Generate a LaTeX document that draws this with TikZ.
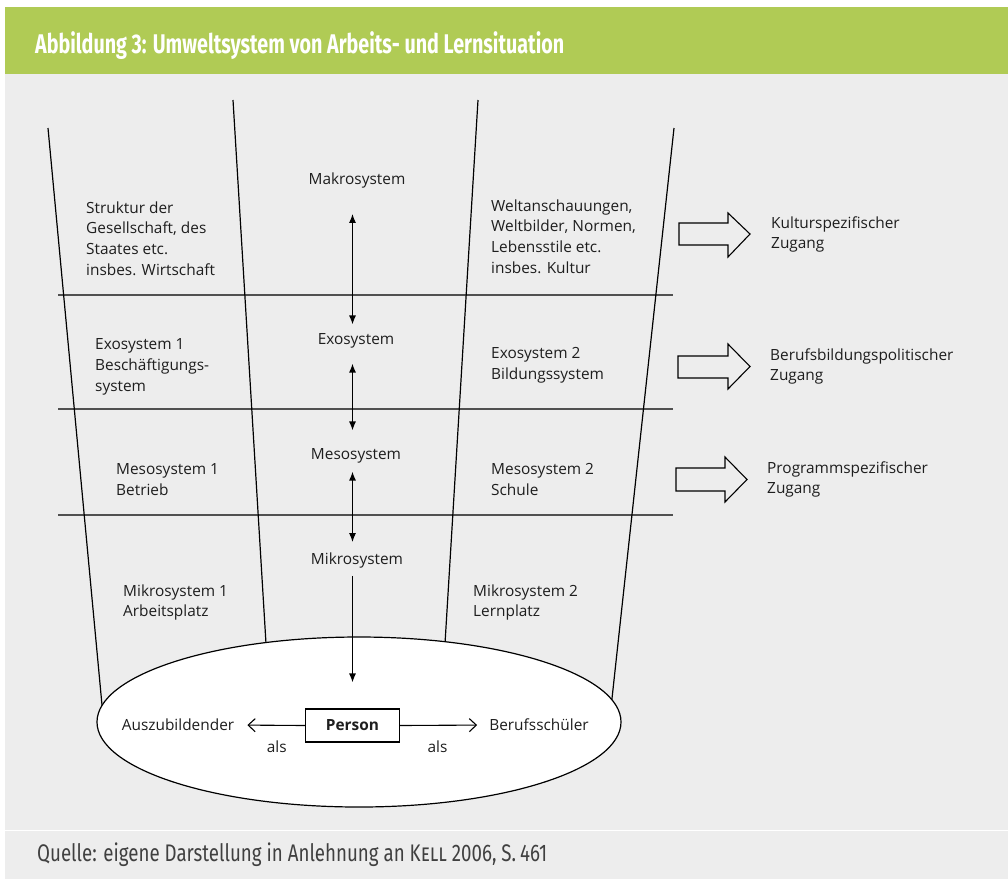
\documentclass[tikz,border=0pt]{standalone}
\usepackage{fontspec}
\setmainfont{Open Sans}
\newfontfamily\headfont[FakeStretch=0.73]{Fira Sans}
\newfontfamily\notefont[FakeStretch=0.78]{Fira Sans}
\usetikzlibrary{arrows.meta,calc}
\definecolor{headgreen}{RGB}{176,203,85}
\definecolor{panelgray}{RGB}{237,237,237}
\definecolor{inkgray}{RGB}{30,30,30}
\definecolor{rulegray}{RGB}{80,80,80}
\tikzset{
  every node/.style={text=inkgray},
  txt/.style={font=\fontsize{15.4}{20.7}\selectfont, align=left, inner sep=0pt},
  ctxt/.style={font=\fontsize{15.4}{20.7}\selectfont, align=center, inner sep=0pt},
  wall/.style={line width=1.2pt, black},
  layer/.style={line width=1.1pt, rulegray},
  vlink/.style={line width=1.2pt, black, {Latex[length=9pt,width=7pt]}-{Latex[length=9pt,width=7pt]}},
  hlink/.style={line width=1.1pt, black, -{Straight Barb[length=7pt,width=13pt,line width=1.1pt]}},
  blockarrow/.style={line width=1.1pt, black, fill=panelgray, line join=miter},
}
\begin{document}
\begin{tikzpicture}[x=1pt,y=-1pt]
\useasboundingbox (0,0) rectangle (1008,879);
% panels
\fill[white] (0,0) rectangle (1008,879);
\fill[headgreen] (5,7) rectangle (1008,74);
\fill[panelgray] (5,74) rectangle (1008,829.5);
\fill[panelgray] (5,831) rectangle (1008,879);
\node[anchor=west, text=white, font=\headfont\bfseries\fontsize{27}{30}\selectfont, inner sep=0pt] (title) at (35,46) {Abbildung 3: Umweltsystem von Arbeits- und Lernsituation};
\node[anchor=west, text=inkgray!85, font=\notefont\fontsize{24}{28}\selectfont, inner sep=0pt] (source) at (37,855) {Quelle: eigene Darstellung in Anlehnung an \textsc{Kell} 2006, S.\,461};

% layer boundaries
\draw[layer] (58,295) -- (673,295);
\draw[layer] (58,409) -- (673,409);
\draw[layer] (58,515) -- (673,515);
% funnel walls
\draw[wall] (48,128) -- (103.4,720);
\draw[wall] (233,100) -- (267,660);
\draw[wall] (478,100) -- (444,660);
\draw[wall] (674,128) -- (610.2,715);
% person level
\draw[line width=1.2pt, fill=white] (359,722) ellipse [x radius=262, y radius=85];

% centre column
\node[ctxt] (makro) at (357,180) {Makrosystem};
\node[ctxt] (exo)   at (356,341) {Exosystem};
\node[ctxt] (meso)  at (356,456) {Mesosystem};
\node[ctxt] (mikro) at (357,560) {Mikrosystem};
\node[draw, line width=1.1pt, fill=white, minimum width=94pt, minimum height=33pt, inner sep=0pt,
      font=\bfseries\fontsize{15.4}{17}\selectfont] (person) at (352.5,725.5) {Person};

% left column
\node[txt, anchor=west] (struktur) at (86,238.5) {Struktur der\\Gesellschaft, des\\Staates etc.\\insbes. Wirtschaft};
\node[txt, anchor=west] (exo1)  at (95,367) {Exosystem 1\\Beschäftigungs-\\system};
\node[txt, anchor=west] (meso1) at (116,479.5) {Mesosystem 1\\Betrieb};
\node[txt, anchor=west] (mikro1) at (123,602.5) {Mikrosystem 1\\Arbeitsplatz};
% right column
\node[txt, anchor=west] (welt) at (491,236.5) {Weltanschauungen,\\Weltbilder, Normen,\\Lebensstile etc.\\insbes. Kultur};
\node[txt, anchor=west] (exo2)  at (491,365.5) {Exosystem 2\\Bildungssystem};
\node[txt, anchor=west] (meso2) at (491,479.5) {Mesosystem 2\\Schule};
\node[txt, anchor=west] (mikro2) at (473,602.5) {Mikrosystem 2\\Lernplatz};

% roles
\node[ctxt] (azubi) at (178,725) {Auszubildender};
\node[ctxt] (schueler) at (539,725) {Berufsschüler};

% links between levels
\draw[vlink, shorten <=26pt, shorten >=9pt] (makro.south -| person.north) -- (exo.north -| person.north);
\draw[vlink, shorten <=15pt, shorten >=18pt] (exo.south -| person.north) -- (meso.north -| person.north);
\draw[vlink, shorten <=8pt, shorten >=10pt] (meso.south -| person.north) -- (mikro.north -| person.north);
\draw[line width=1.2pt, -{Latex[length=9pt,width=7pt]}, shorten <=8pt, shorten >=26pt] (mikro.south -| person.north) -- (person.north);
\draw[hlink, shorten >=13pt] (person.west) -- node[pos=0.4, below=15pt, font=\fontsize{15.4}{17}\selectfont, inner sep=0pt] (als1) {als} (azubi.east);
\draw[hlink, shorten >=12pt] (person.east) -- node[pos=0.42, below=15pt, font=\fontsize{15.4}{17}\selectfont, inner sep=0pt] (als2) {als} (schueler.west);

% access routes
\node[txt, anchor=west] (kultur) at (771,234.5) {Kulturspezifischer\\Zugang};
\node[txt, anchor=west] (beruf) at (770,366.5) {Berufsbildungspolitischer\\Zugang};
\node[txt, anchor=west] (programm) at (767,479.5) {Programmspezifischer\\Zugang};
\draw[blockarrow] (679,223) -- (728,223) -- (728,213) -- (750,234) -- (728,257) -- (728,245) -- (679,245) -- cycle;
\draw[blockarrow] (678,356) -- (728,356) -- (728,344) -- (750,366.5) -- (728,389) -- (728,378) -- (678,378) -- cycle;
\draw[blockarrow] (676,468) -- (725,468) -- (725,457) -- (747,479.5) -- (725,502) -- (725,491) -- (676,491) -- cycle;
\end{tikzpicture}
\end{document}
